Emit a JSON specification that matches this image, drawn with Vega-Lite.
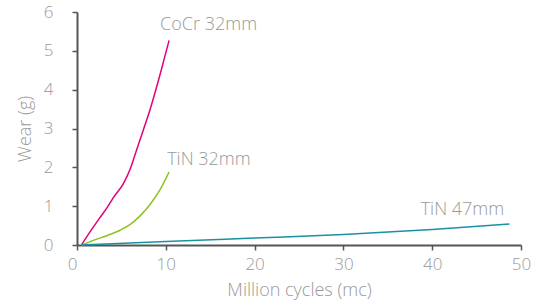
{
  "$schema": "https://vega.github.io/schema/vega-lite/v6.json",
  "width": 444,
  "height": 233,
  "autosize": "none",
  "padding": {"left": 77, "top": 12, "right": 19, "bottom": 58},
  "background": "white",
  "config": {"view": {"stroke": null}, "font": "Open Sans"},
  "datasets": {
    "curves": [
      {"series": "CoCr 32mm", "x": 0.5, "y": 0.0},
      {"series": "CoCr 32mm", "x": 1.5, "y": 0.35},
      {"series": "CoCr 32mm", "x": 2.5, "y": 0.68},
      {"series": "CoCr 32mm", "x": 3.35, "y": 0.95},
      {"series": "CoCr 32mm", "x": 4.1, "y": 1.22},
      {"series": "CoCr 32mm", "x": 5.22, "y": 1.58},
      {"series": "CoCr 32mm", "x": 5.98, "y": 1.95},
      {"series": "CoCr 32mm", "x": 6.73, "y": 2.46},
      {"series": "CoCr 32mm", "x": 7.48, "y": 2.97},
      {"series": "CoCr 32mm", "x": 8.23, "y": 3.49},
      {"series": "CoCr 32mm", "x": 9.4, "y": 4.43},
      {"series": "CoCr 32mm", "x": 10.37, "y": 5.27},
      {"series": "TiN 32mm", "x": 0.5, "y": 0.0},
      {"series": "TiN 32mm", "x": 1.85, "y": 0.12},
      {"series": "TiN 32mm", "x": 3.35, "y": 0.24},
      {"series": "TiN 32mm", "x": 4.85, "y": 0.38},
      {"series": "TiN 32mm", "x": 6.0, "y": 0.53},
      {"series": "TiN 32mm", "x": 7.1, "y": 0.75},
      {"series": "TiN 32mm", "x": 8.25, "y": 1.05},
      {"series": "TiN 32mm", "x": 9.37, "y": 1.43},
      {"series": "TiN 32mm", "x": 10.37, "y": 1.88},
      {"series": "TiN 47mm", "x": 0.5, "y": 0.0},
      {"series": "TiN 47mm", "x": 10, "y": 0.09},
      {"series": "TiN 47mm", "x": 20, "y": 0.18},
      {"series": "TiN 47mm", "x": 30, "y": 0.27},
      {"series": "TiN 47mm", "x": 40, "y": 0.4},
      {"series": "TiN 47mm", "x": 48.7, "y": 0.54}
    ],
    "labels": [
      {"series": "CoCr 32mm", "x": 9.36, "y": 5.67},
      {"series": "TiN 32mm", "x": 10.15, "y": 2.18},
      {"series": "TiN 47mm", "x": 38.7, "y": 0.91}
    ]
  },
  "encoding": {
    "x": {
      "field": "x", "type": "quantitative",
      "scale": {"domain": [0, 50], "nice": false},
      "axis": {
        "title": "Million cycles (mc)", "values": [0, 10, 20, 30, 40, 50],
        "grid": false, "domainColor": "#555", "domainWidth": 2,
        "tickColor": "#555", "tickWidth": 1.5, "tickSize": 5,
        "labelColor": "#999", "labelFontSize": 17, "labelPadding": 6,
        "labelFont": "Open Sans", "labelFontWeight": 300,
        "labelAlign": {"expr": "datum.value == 0 ? 'right' : 'center'"},
        "labelOverlap": false,
        "titleColor": "#999", "titleFontSize": 18, "titleFontWeight": 300,
        "titleFont": "Open Sans", "titlePadding": 9
      }
    },
    "y": {
      "field": "y", "type": "quantitative",
      "scale": {"domain": [0, 6], "nice": false},
      "axis": {
        "title": "Wear (g)",
        "values": [0, 1, 2, 3, 4, 5, 6],
        "grid": false, "domainColor": "#555", "domainWidth": 2,
        "tickColor": "#555", "tickWidth": 1.5, "tickSize": 5,
        "labelColor": "#999", "labelFontSize": 17, "labelPadding": 19,
        "labelFont": "Open Sans", "labelFontWeight": 300,
        "labelOverlap": false,
        "titleColor": "#999", "titleFontSize": 18, "titleFontWeight": 300,
        "titleFont": "Open Sans", "titlePadding": 9
      }
    }
  },
  "layer": [
    {
      "data": {"name": "curves"},
      "mark": {"type": "line", "strokeWidth": 1.5, "interpolate": "monotone"},
      "encoding": {
        "color": {
          "field": "series", "type": "nominal",
          "scale": {"domain": ["CoCr 32mm", "TiN 32mm", "TiN 47mm"], "range": ["#e5007d", "#8dc21f", "#1792a3"]},
          "legend": null
        }
      }
    },
    {
      "data": {"name": "labels"},
      "mark": {"type": "text", "align": "left", "baseline": "middle", "fontSize": 18, "font": "Open Sans", "fontWeight": 300, "color": "#999"},
      "encoding": {
        "text": {"field": "series"}
      }
    }
  ]
}
